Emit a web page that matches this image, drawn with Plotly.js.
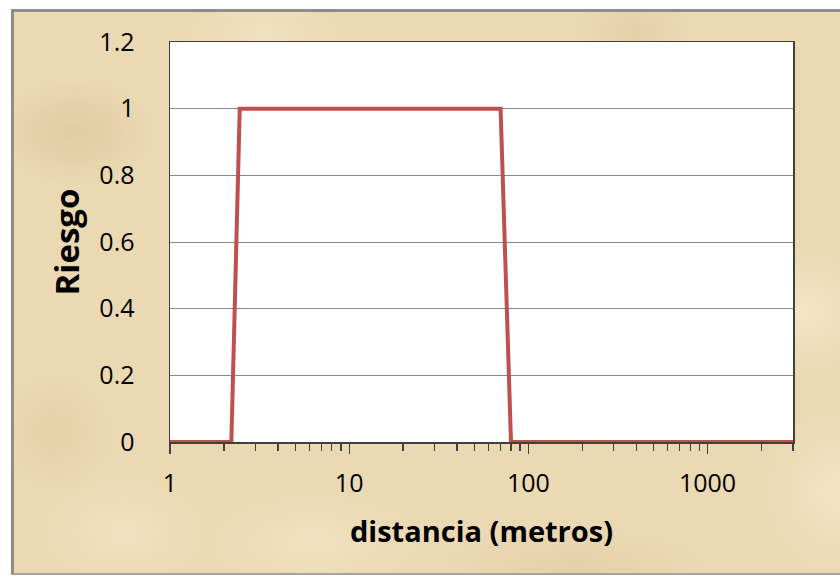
<!DOCTYPE html>
<html>
<head>
<meta charset="utf-8">
<script src="https://cdn.plot.ly/plotly-3.0.1.min.js"></script>
<style>
  html, body { margin:0; padding:0; background:#ffffff; }
  #wrap { position:relative; width:840px; height:579px; overflow:hidden; background:#ffffff; }
  #frame {
    position:absolute; left:11px; top:9px; width:829px; height:566px;
    border-top:3px solid #8e8e88; border-left:3px solid #8e8e88; border-bottom:2px solid #a8a49a;
    box-sizing:border-box;
    background-color:#ebd9b3;
    background-image:
      radial-gradient(ellipse 120px 80px at 60px 120px, rgba(216,190,144,0.5), rgba(216,190,144,0) 70%),
      radial-gradient(ellipse 140px 90px at 780px 300px, rgba(246,234,206,0.7), rgba(246,234,206,0) 70%),
      radial-gradient(ellipse 160px 70px at 300px 530px, rgba(246,232,200,0.6), rgba(246,232,200,0) 70%),
      radial-gradient(ellipse 100px 120px at 820px 480px, rgba(245,232,202,0.7), rgba(245,232,202,0) 70%),
      radial-gradient(ellipse 90px 60px at 620px 20px, rgba(222,200,156,0.45), rgba(222,200,156,0) 70%),
      radial-gradient(ellipse 90px 90px at 40px 420px, rgba(224,200,154,0.45), rgba(224,200,154,0) 70%),
      radial-gradient(ellipse 200px 60px at 560px 555px, rgba(222,198,154,0.4), rgba(222,198,154,0) 70%),
      radial-gradient(ellipse 120px 80px at 110px 520px, rgba(245,232,200,0.6), rgba(245,232,200,0) 70%),
      radial-gradient(ellipse 110px 60px at 250px 20px, rgba(245,230,198,0.6), rgba(245,230,198,0) 70%);
  }
  #chart { position:absolute; left:0; top:0; width:840px; height:579px; }
</style>
</head>
<body>
<div id="wrap">
  <div id="frame"></div>
  <div id="chart"></div>
</div>
<script>
// Data
var distancia = [1, 2.2, 2.45, 70, 80, 3000];
var riesgo    = [0, 0,   1,    1,  0,  0];

var xMajorTicks = [1, 10, 100, 1000];
var xMajorLabels = ["1", "10", "100", "1000"];
var xMinorTicks = [2,3,4,5,6,7,8,9,20,30,40,50,60,70,80,90,200,300,400,500,600,700,800,900,2000,3000];

var yTicks = [0, 0.2, 0.4, 0.6, 0.8, 1, 1.2];
var yLabels = ["0", "0.2", "0.4", "0.6", "0.8", "1", "1.2"];

var xTitle = "distancia (metros)";
var yTitle = "Riesgo";

var trace = {
  x: distancia,
  y: riesgo,
  type: 'scatter',
  mode: 'lines',
  line: { color: '#c0504d', width: 4 },
  hoverinfo: 'x+y'
};

var fontFam = '"Open Sans", "Liberation Sans", sans-serif';

var layout = {
  width: 840,
  height: 579,
  paper_bgcolor: 'rgba(0,0,0,0)',
  plot_bgcolor: '#ffffff',
  margin: { l: 170, r: 47, t: 42, b: 137, pad: 0 },
  showlegend: false,
  font: { family: fontFam, color: '#000000', size: 25 },
  xaxis: {
    type: 'log',
    range: [0, Math.log10(3000)],
    autorange: false,
    tickmode: 'array',
    tickvals: xMajorTicks,
    ticktext: xMajorLabels,
    ticks: 'outside',
    ticklen: 10,
    tickwidth: 1.3,
    tickcolor: '#404040',
    minor: { tickmode: 'array', tickvals: xMinorTicks, ticks: 'outside', ticklen: 7, tickwidth: 1.3, tickcolor: '#404040', showgrid: false },
    showgrid: false,
    zeroline: false,
    showline: true,
    linecolor: '#404040',
    linewidth: 1.5,
    mirror: true,
    tickfont: { family: fontFam, size: 25, color: '#000000' },
    ticklabelstandoff: 8,
    title: { text: xTitle, font: { family: fontFam, size: 29, color: '#000000', weight: 'bold' }, standoff: 24 }
  },
  yaxis: {
    range: [0, 1.2],
    autorange: false,
    tickmode: 'array',
    tickvals: yTicks,
    ticktext: yLabels,
    ticks: '',
    showgrid: true,
    gridcolor: '#8a8a8a',
    gridwidth: 1,
    zeroline: false,
    showline: true,
    linecolor: '#404040',
    linewidth: 1.5,
    mirror: true,
    tickfont: { family: fontFam, size: 25, color: '#000000' },
    ticklabelstandoff: 29,
    title: { text: yTitle, font: { family: fontFam, size: 33, color: '#000000', weight: 'bold' }, standoff: 10 }
  }
};

Plotly.newPlot('chart', [trace], layout, { displayModeBar: false, staticPlot: true });
</script>
</body>
</html>
